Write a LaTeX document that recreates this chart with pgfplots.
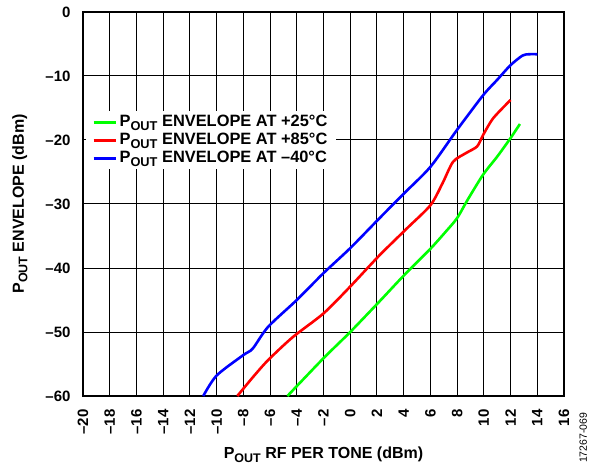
\documentclass[border=0pt]{standalone}
\usepackage{pgfplots}
\pgfplotsset{compat=1.18}
\usepackage{fontspec}
\setmainfont{Liberation Sans}
\newcommand{\sub}[1]{\raisebox{-0.22em}{\scalebox{0.78}{#1}}}
\begin{document}
\begin{tikzpicture}
\useasboundingbox (-83pt,-73pt) rectangle (517pt,396pt);
\begin{axis}[
  at={(0,0)}, anchor=south west,
  scale only axis, width=481pt, height=384pt,
  xmin=-20, xmax=16, ymin=-60, ymax=0,
  xtick={-20,-18,...,16},
  xticklabels={–20,–18,–16,–14,–12,–10,–8,–6,–4,–2,0,2,4,6,8,10,12,14,16},
  ytick={-60,-50,...,0},
  yticklabels={–60,–50,–40,–30,–20,–10,0},
  tick label style={font=\fontsize{15}{17}\selectfont\bfseries},
  xticklabel style={rotate=90, anchor=east},
  xticklabel shift=10pt,
  yticklabel shift=9pt,
  major tick length=0pt,
  grid=major,
  major grid style={black, line width=1pt},
  axis line style={black, line width=1.6pt},
  xlabel={P\sub{OUT} RF PER TONE (dBm)},
  ylabel={P\sub{OUT} ENVELOPE (dBm)},
  label style={font=\fontsize{16}{18}\selectfont\bfseries},
  xlabel style={at={(axis description cs:0.5,-0.153)}, anchor=center},
  ylabel style={at={(axis description cs:-0.131,0.5)}, anchor=center},
  legend style={at={(axis description cs:0.006,0.742)}, anchor=north west,
    draw=none, fill=white, font=\fontsize{16.4}{18}\selectfont\bfseries,
    row sep=0pt, inner xsep=6pt, inner ysep=2pt,
    nodes={inner xsep=2.5pt, inner ysep=1pt, text height=12.5pt, text depth=3.5pt}},
  legend cell align=left,
  legend image code/.code={\draw[#1, line width=3pt] (0pt,0pt) -- (22pt,0pt);},
  every axis plot/.append style={line width=2.6pt, smooth, tension=0.45},
  clip=false,
]
\addplot[color={rgb,255:red,0;green,255;blue,0}] coordinates {
(-4.7,-60) (-2,-54.1) (0,-50) (2.2,-45.2) (4,-41.2) (6,-37.0) (7.2,-34.2) (8,-32.2) (8.8,-29.3) (9.95,-25.4) (11,-22.6) (12,-19.7) (12.7,-17.5)};
\addlegendentry{P\sub{OUT} ENVELOPE AT +25°C}
\addplot[color={rgb,255:red,255;green,0;blue,0}] coordinates {
(-8.45,-60) (-7.3,-57.1) (-6.15,-54.4) (-4.3,-50.8) (-2,-47.1) (0,-42.9) (2.2,-38.0) (4.25,-33.8) (6,-30.2) (6.9,-26.8) (7.7,-23.4) (8.7,-22.0) (9.5,-21.0) (9.95,-19.2) (10.7,-16.6) (12,-13.75)};
\addlegendentry{P\sub{OUT} ENVELOPE AT +85°C}
\addplot[color={rgb,255:red,0;green,0;blue,255}] coordinates {
(-11,-60) (-10,-56.8) (-8.0,-53.6) (-7.3,-52.6) (-6.15,-49.2) (-4,-45.0) (-2,-40.8) (0,-36.9) (2.2,-32.2) (4,-28.4) (6,-24.2) (8,-18.4) (9.95,-13.0) (11,-10.6) (12,-8.3) (12.9,-6.8) (13.4,-6.6) (14,-6.6)};
\addlegendentry{P\sub{OUT} ENVELOPE AT –40°C}
\node[rotate=90, font=\fontsize{10.5}{12}\selectfont, anchor=center] at (axis description cs:1.04,-0.109) {17267-069};
\end{axis}
\end{tikzpicture}
\end{document}
